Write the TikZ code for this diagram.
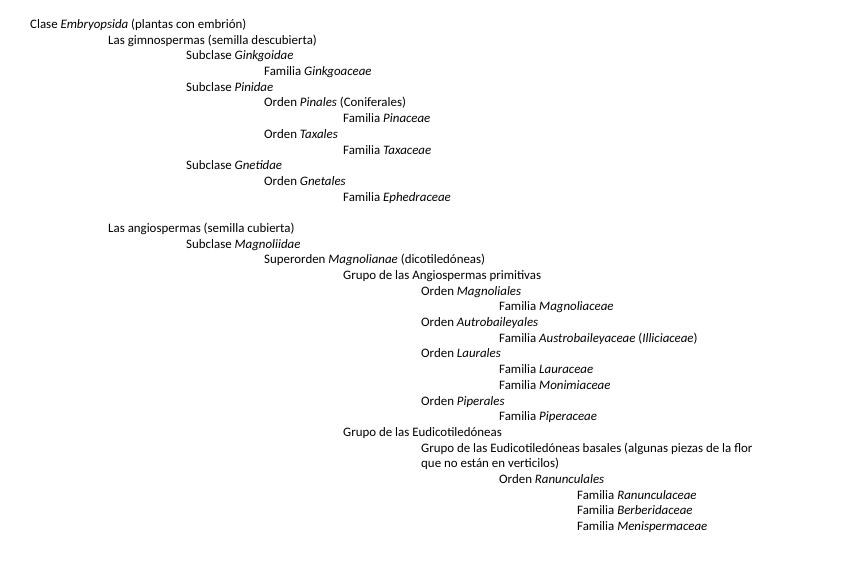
\documentclass[tikz,border=0pt]{standalone}
\usepackage{fontspec}
\setmainfont{Carlito}
\begin{document}
\begin{tikzpicture}[x=1pt,y=-1pt,
  entry/.style={anchor=base west,inner sep=0pt,font=\fontsize{12.9}{15}\selectfont}]
\useasboundingbox[fill=white] (0,0) rectangle (848,587);
\def\L#1{\fpeval{28.5+15.69*#1}}
\node[entry] (n1) at (30,\L{0}) {Clase \textit{Embryopsida} (plantas con embrión)};
\node[entry] (n2) at (108,\L{1}) {Las gimnospermas (semilla descubierta)};
\node[entry] (n3) at (186,\L{2}) {Subclase \textit{Ginkgoidae}};
\node[entry] (n4) at (264,\L{3}) {Familia \textit{Ginkgoaceae}};
\node[entry] (n5) at (186,\L{4}) {Subclase \textit{Pinidae}};
\node[entry] (n6) at (264,\L{5}) {Orden \textit{Pinales} (Coniferales)};
\node[entry] (n7) at (343,\L{6}) {Familia \textit{Pinaceae}};
\node[entry] (n8) at (264,\L{7}) {Orden \textit{Taxales}};
\node[entry] (n9) at (343,\L{8}) {Familia \textit{Taxaceae}};
\node[entry] (n10) at (186,\L{9}) {Subclase \textit{Gnetidae}};
\node[entry] (n11) at (264,\L{10}) {Orden \textit{Gnetales}};
\node[entry] (n12) at (343,\L{11}) {Familia \textit{Ephedraceae}};
\node[entry] (n13) at (108,\L{13}) {Las angiospermas (semilla cubierta)};
\node[entry] (n14) at (186,\L{14}) {Subclase \textit{Magnoliidae}};
\node[entry] (n15) at (264,\L{15}) {Superorden \textit{Magnolianae} (dicotiledóneas)};
\node[entry] (n16) at (343,\L{16}) {Grupo de las Angiospermas primitivas};
\node[entry] (n17) at (421,\L{17}) {Orden \textit{Magnoliales}};
\node[entry] (n18) at (499,\L{18}) {Familia \textit{Magnoliaceae}};
\node[entry] (n19) at (421,\L{19}) {Orden \textit{Autrobaileyales}};
\node[entry] (n20) at (499,\L{20}) {Familia \textit{Austrobaileyaceae} (\textit{Illiciaceae})};
\node[entry] (n21) at (421,\L{21}) {Orden \textit{Laurales}};
\node[entry] (n22) at (499,\L{22}) {Familia \textit{Lauraceae}};
\node[entry] (n23) at (499,\L{23}) {Familia \textit{Monimiaceae}};
\node[entry] (n24) at (421,\L{24}) {Orden \textit{Piperales}};
\node[entry] (n25) at (499,\L{25}) {Familia \textit{Piperaceae}};
\node[entry] (n26) at (343,\L{26}) {Grupo de las Eudicotiledóneas};
\node[entry] (n27) at (421,\L{27}) {Grupo de las Eudicotiledóneas basales (algunas piezas de la flor};
\node[entry] (n27b) at (421,\L{28}) {que no están en verticilos)};
\node[entry] (n29) at (499,\L{29}) {Orden \textit{Ranunculales}};
\node[entry] (n30) at (577,\L{30}) {Familia \textit{Ranunculaceae}};
\node[entry] (n31) at (577,\L{31}) {Familia \textit{Berberidaceae}};
\node[entry] (n32) at (577,\L{32}) {Familia \textit{Menispermaceae}};
\end{tikzpicture}
\end{document}
